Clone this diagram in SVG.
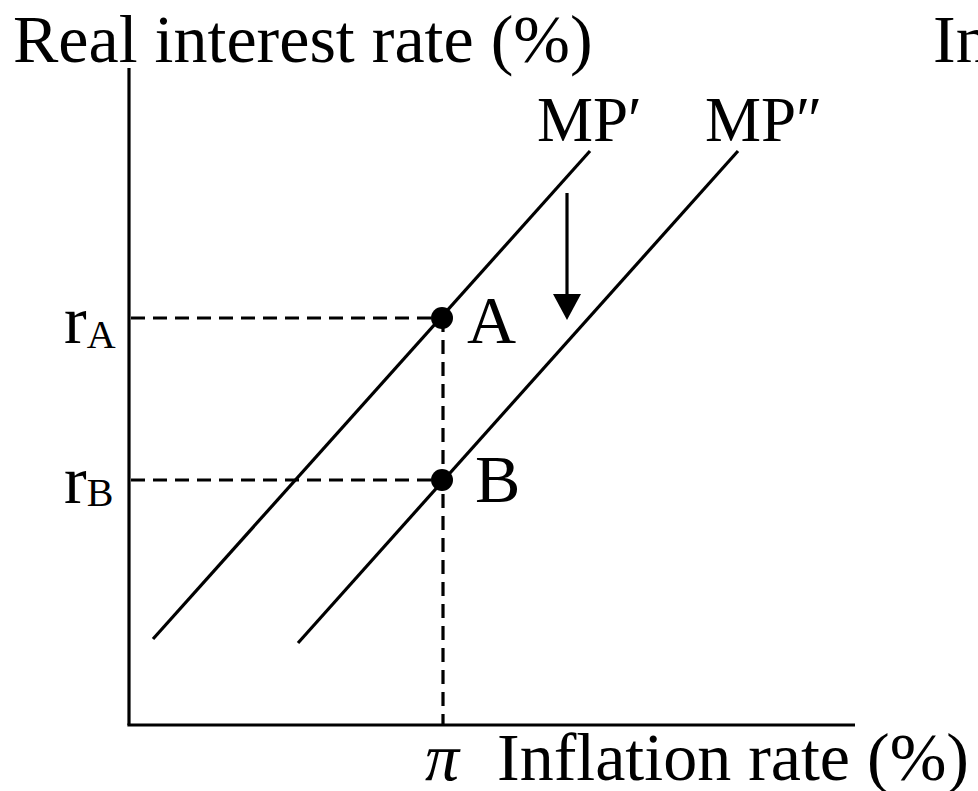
<svg xmlns="http://www.w3.org/2000/svg" width="978" height="791" viewBox="0 0 978 791">
<style>
text{font-family:"Liberation Serif","Times New Roman",serif;fill:#000}
.big{font-size:68px}
.mp{font-size:63px}
.sub{font-size:40px}
.pi{font-style:italic}
.ax{stroke:#000;stroke-width:3.2;fill:none}
.ln{stroke:#000;stroke-width:3.2;fill:none}
.dash{stroke:#000;stroke-width:3.2;fill:none;stroke-dasharray:14 8}
</style>
<rect width="978" height="791" fill="#fff"/>
<g id="axes">
<line class="ax" x1="129" y1="68" x2="129" y2="725"/>
<line class="ax" x1="127.4" y1="725" x2="855" y2="725"/>
</g>
<g id="connectors">
<line class="dash" x1="131" y1="318" x2="442" y2="318"/>
<line class="dash" x1="131" y1="480" x2="442" y2="480"/>
<line class="dash" x1="443" y1="318" x2="443" y2="724"/>
<line class="ln" x1="153" y1="639" x2="590" y2="151"/>
<line class="ln" x1="298" y1="643" x2="738" y2="151"/>
<line class="ln" x1="567" y1="193" x2="567" y2="300"/>
<path d="M553,294 L581,294 L567,320 Z" fill="#000"/>
</g>
<g id="pointA">
<circle cx="442" cy="318" r="11" fill="#000"/>
<text class="big" x="467" y="343">A</text>
</g>
<g id="pointB">
<circle cx="442" cy="480" r="11" fill="#000"/>
<text class="big" x="475" y="502">B</text>
</g>
<g id="labels">
<text class="big" x="13" y="62">Real interest rate (%)</text>
<text class="big" x="933" y="62">In</text>
<text class="mp" x="537" y="141">MP′</text>
<text class="mp" x="705" y="141">MP″</text>
<text x="64" y="343"><tspan class="big">r</tspan><tspan class="sub" dy="5">A</tspan></text>
<text x="64" y="503"><tspan class="big">r</tspan><tspan class="sub" dy="3">B</tspan></text>
<text class="big pi" x="425" y="780">π</text>
<text class="big" x="497" y="780">Inflation rate (%)</text>
</g>
</svg>
